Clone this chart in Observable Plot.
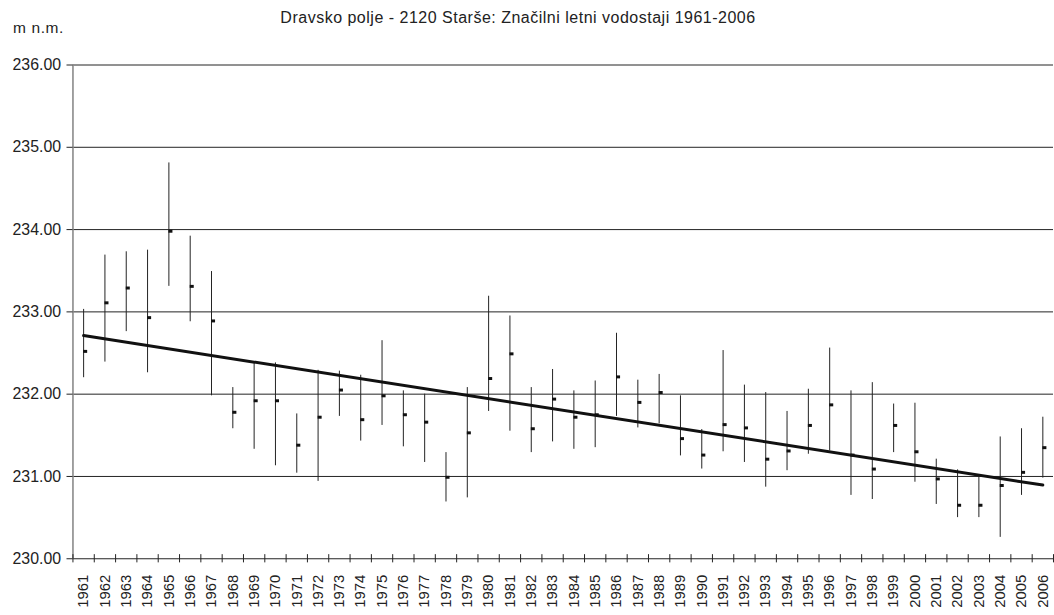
<!DOCTYPE html>
<html>
<head>
<meta charset="utf-8">
<script src="https://cdn.jsdelivr.net/npm/d3@7"></script>
<script src="https://cdn.jsdelivr.net/npm/@observablehq/plot@0.6"></script>
<style>
  html, body { margin: 0; padding: 0; background: #fff; overflow: hidden; width: 1054px; height: 615px; }
  #wrap { position: relative; width: 1054px; height: 615px; overflow: hidden; font-family: "Liberation Sans", Arial, sans-serif; color: #222; }
  #title { position: absolute; left: 0; width: 1036px; top: 9px; text-align: center; font-size: 16px; letter-spacing: 0.5px; white-space: nowrap; }
  #ylab { position: absolute; left: 13px; top: 19px; font-size: 15.5px; letter-spacing: 0.6px; white-space: nowrap; }
  #chart { position: absolute; left: 0; top: 0; }
</style>
</head>
<body>
<div id="wrap">
  <div id="chart"></div>
  <div id="title">Dravsko polje - 2120 Starše: Značilni letni vodostaji 1961-2006</div>
  <div id="ylab">m n.m.</div>
</div>
<script>
const years = [1961,1962,1963,1964,1965,1966,1967,1968,1969,1970,
               1971,1972,1973,1974,1975,1976,1977,1978,1979,1980,
               1981,1982,1983,1984,1985,1986,1987,1988,1989,1990,
               1991,1992,1993,1994,1995,1996,1997,1998,1999,2000,
               2001,2002,2003,2004,2005,2006];
const high = [233.03,233.69,233.73,233.75,234.81,233.92,233.49,232.08,232.37,232.38,
              231.76,232.29,232.28,232.23,232.65,232.04,232.00,231.29,232.08,233.19,
              232.95,232.08,232.30,232.04,232.16,232.74,232.17,232.24,231.98,231.57,
              232.53,232.11,232.02,231.79,232.06,232.56,232.04,232.14,231.88,231.89,
              231.21,231.08,230.99,231.48,231.58,231.72];
const low = [232.20,232.39,232.76,232.26,233.31,232.88,231.98,231.58,231.33,231.13,
             231.04,230.94,231.73,231.43,231.62,231.36,231.17,230.69,230.74,231.79,
             231.55,231.29,231.42,231.33,231.35,231.73,231.59,231.64,231.25,231.09,
             231.30,231.17,230.87,231.07,231.27,231.31,230.77,230.72,231.29,230.93,
             230.66,230.50,230.50,230.26,230.77,230.98];
const mean = [232.52,233.11,233.29,232.93,233.98,233.31,232.89,231.78,231.92,231.92,
              231.38,231.72,232.05,231.69,231.98,231.75,231.66,230.99,231.53,232.19,
              232.49,231.58,231.94,231.72,231.75,232.21,231.90,232.02,231.46,231.26,
              231.63,231.59,231.21,231.31,231.62,231.87,231.26,231.09,231.62,231.30,
              230.97,230.65,230.65,230.89,231.05,231.35];
const yTicks = [230, 231, 232, 233, 234, 235, 236];

const data = years.map((y, i) => ({year: y, high: high[i], low: low[i], mean: mean[i]}));
// category boundaries (between years)
const bounds = [years[0] - 0.5, ...years.map(y => y + 0.5)];

const chart = Plot.plot({
  width: 1062,
  height: 615,
  marginLeft: 73,
  marginRight: 1,
  marginTop: 65,
  marginBottom: 52.5,
  style: {fontFamily: "'Liberation Sans', Arial, sans-serif", color: "#222", background: "#fff"},
  x: {type: "linear", domain: [years[0] - 0.5, years[years.length - 1] + 0.5], label: null},
  y: {domain: [230, 236], label: null},
  marks: [
    Plot.ruleY(yTicks.slice(1), {stroke: "#222", strokeWidth: 1}),
    Plot.ruleY([230], {stroke: "#222", strokeWidth: 1}),
    Plot.ruleX([years[0] - 0.5], {y1: 230, y2: 236, stroke: "#8a8a8a", strokeWidth: 1.6}),
    Plot.ruleX(bounds, {x: d => d, y1: 229.95, y2: 230.05, stroke: "#222", strokeWidth: 1}),
    Plot.axisY({ticks: yTicks, tickFormat: d => d.toFixed(2), tickSize: 6, tickPadding: 6, fontSize: 16, letterSpacing: 0.4}),
    Plot.axisX({ticks: years, tickFormat: d => String(d), tickSize: 0, tickPadding: 16, tickRotate: -90, fontSize: 15}),
    Plot.ruleX(data, {x: "year", y1: "low", y2: "high", stroke: "#222", strokeWidth: 1}),
    Plot.ruleY(data, {y: "mean", x1: d => d.year, x2: d => d.year + 0.19, stroke: "#111", strokeWidth: 3}),
    Plot.linearRegressionY(data, {x: "year", y: "mean", ci: 0, stroke: "#111", strokeWidth: 3})
  ]
});
document.getElementById("chart").appendChild(chart);
</script>
</body>
</html>
